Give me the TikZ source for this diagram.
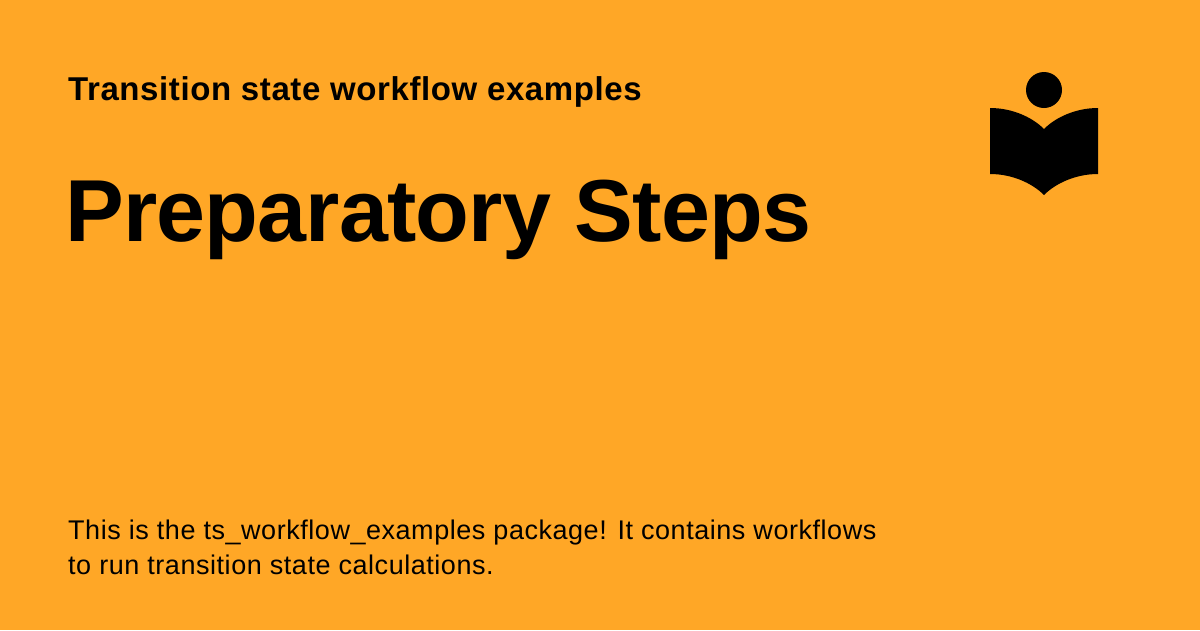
\documentclass[tikz,border=0pt]{standalone}
\usepackage{fontspec}
\setmainfont{Liberation Sans}
\usepackage{xcolor}
\usepackage{tikz}
\usetikzlibrary{positioning}
\definecolor{pagebg}{HTML}{FFA726}

\begin{document}
\begin{tikzpicture}[
  x=1pt, y=-1pt,
  subtitle/.style={anchor=base west, inner sep=0pt, font=\fontsize{33}{40}\selectfont\bfseries\addfontfeature{LetterSpace=1.8}},
  headline/.style={anchor=base west, inner sep=0pt, font=\fontsize{88}{100}\selectfont\bfseries\addfontfeature{LetterSpace=-0.9}},
  blurb/.style={anchor=base west, inner sep=0pt, font=\fontsize{27}{35}\selectfont\addfontfeature{LetterSpace=2.0}}
]
  % Background
  \path[use as bounding box, fill=pagebg] (0,0) rectangle (1200,630);

  % Texts
  \node[subtitle] (sub) at (68,100) {Transition state workflow examples};
  \node[headline] (head) at (65,241) {Preparatory Steps};
  \node[blurb] (line1) at (68,539) {This is the ts\_workflow\_examples package! It contains workflows};
  \node[blurb] (line2) at (68,574) {to run transition state calculations.};

  % Logo
  \fill (1044,90) circle (18);
  \fill (990,108) .. controls (1012,108) and (1032,117) .. (1044,129)
    .. controls (1056,117) and (1076,108) .. (1098,108)
    -- (1098,174) .. controls (1076,174) and (1056,183) .. (1044,195)
    .. controls (1032,183) and (1012,174) .. (990,174) -- cycle;
\end{tikzpicture}
\end{document}
